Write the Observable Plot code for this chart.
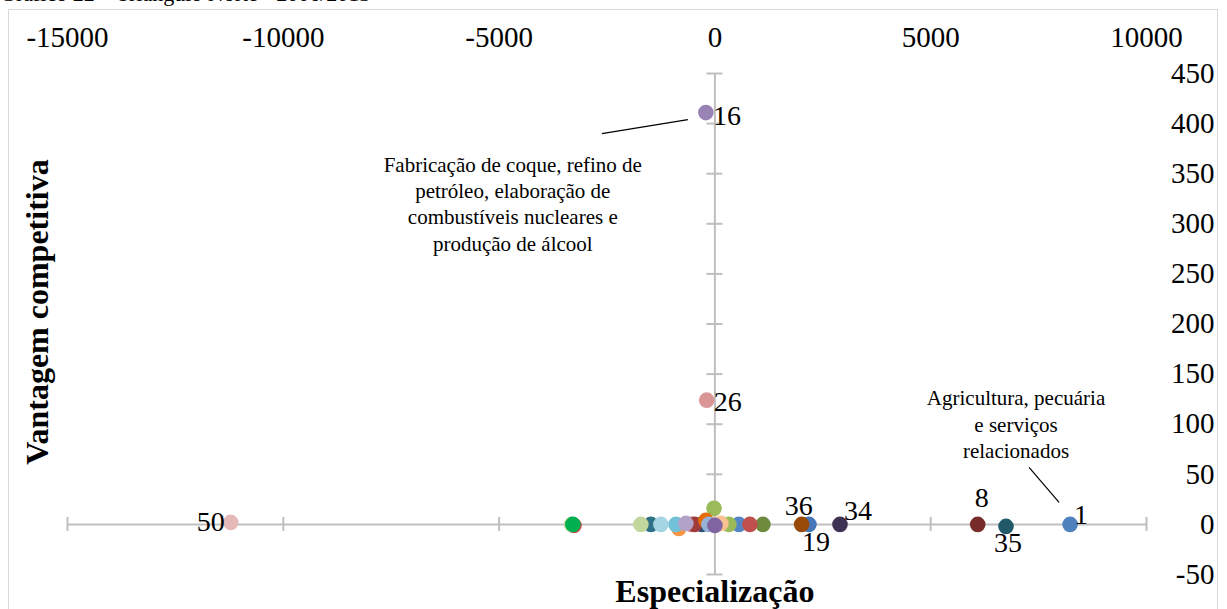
<!DOCTYPE html>
<html>
<head>
<meta charset="utf-8">
<script src="https://cdn.jsdelivr.net/npm/d3@7"></script>
<script src="https://cdn.jsdelivr.net/npm/@observablehq/plot@0.6"></script>
<style>
  html, body { margin: 0; padding: 0; width: 1227px; height: 609px; overflow: hidden; background: white; }
  #wrap { position: relative; width: 1227px; height: 609px; }
  #title { position: absolute; left: 0; top: -17px; font: 22px "Liberation Serif", serif; white-space: nowrap; line-height: 1; color: #000; }
  #frame { position: absolute; left: 8px; top: 9px; width: 1208px; height: 700px; border: 1.5px solid #d9d9d9; pointer-events: none; z-index: 2; }
  #chart { position: absolute; left: 0; top: 0; z-index: 1; }
</style>
</head>
<body>
<div id="wrap">
  <div id="title">Gráfico 22 – Triângulo Norte - 2006/2013</div>
  <div id="frame"></div>
  <div id="chart"></div>
</div>
<script>
// ---- Data ----
const setor          = [1, 2, 3, 6, 7, 8, 9, 11, 13, 14, 15, 16, 17, 19, 20, 24, 25, 26, 27, 28, 30, 34, 35, 36, 38, 40, 42, 50, 51, 53];
const especializacao = [8230, -3265, -20, -835, -300, 6089, 1113, -1484, 556, -540, 324, -209, -904, 2179, -470, -209, -139, -190, -3320, -672, 139, 2898, 6745, 2010, 811, 0, -3292, -11219, -1715, -1252];
const vantagem       = [0, -1, 16, -4, 0, 0, 0, 0, 0, 0, 0, 411, 0, 0, 0, 4, 0, 124, 0, 1, 1, 0, -2, 0, 0, -1, 0, 2, 0, 0];
const cores          = ["#4F81BD", "#C0504D", "#9BBB59", "#F79646", "#2C4D75", "#772C2A", "#6E8B3D", "#2E7086", "#5586C4", "#D58683", "#9BBB59", "#9983B5", "#72C1D8", "#4577B8", "#9F3B38", "#E46C0A", "#95B3D7", "#D99694", "#C3D69B", "#B3A2C7", "#FAC090", "#3F3151", "#215968", "#984807", "#C0504D", "#8064A2", "#00B050", "#E6B9B8", "#C3D69B", "#A5D5E3"];
const setoresRotulados = [16, 26, 50, 36, 19, 34, 8, 35, 1];

const xTicks = [-15000, -10000, -5000, 0, 5000, 10000];
const yTicks = [-50, 0, 50, 100, 150, 200, 250, 300, 350, 400, 450];

const anotTexto = [
  "Fabricação de coque, refino de\npetróleo, elaboração de\ncombustíveis nucleares e\nprodução de álcool",
  "Agricultura, pecuária\ne serviços\nrelacionados"
];
const anotX = [-4683, 6977];
const anotY = [321, 101];
const linhaX1 = [-2619, 7279];
const linhaY1 = [390, 57];
const linhaX2 = [-626, 7974];
const linhaY2 = [404, 22];

const tituloX = "Especialização";
const tituloY = "Vantagem competitiva";

// ---- Build tables ----
const pontos = setor.map((s, i) => ({setor: s, x: especializacao[i], y: vantagem[i]}));
const anot = anotTexto.map((t, i) => ({t, x: anotX[i], y: anotY[i]}));
const linhas = linhaX1.map((d, i) => ({x1: d, y1: linhaY1[i], x2: linhaX2[i], y2: linhaY2[i]}));

// label placement (style)
const place = {
  16: {dx: 7, dy: 3, textAnchor: "start"},
  26: {dx: 7, dy: 2, textAnchor: "start"},
  50: {dx: -6, dy: 0, textAnchor: "end"},
  36: {dx: -3, dy: -18, textAnchor: "middle"},
  19: {dx: 7, dy: 18, textAnchor: "middle"},
  34: {dx: 4, dy: -13, textAnchor: "start"},
  8:  {dx: 4, dy: -26, textAnchor: "middle"},
  35: {dx: 2, dy: 17, textAnchor: "middle"},
  1:  {dx: 4, dy: -9, textAnchor: "start"}
};

const FONT = "Liberation Serif, Times New Roman, serif";
const GRAY = "#bfbfbf";

const labelMarks = setoresRotulados.map(s => {
  const p = place[s];
  return Plot.text(pontos.filter(d => d.setor === s), {
    x: "x", y: "y", text: d => String(d.setor),
    dx: p.dx, dy: p.dy, textAnchor: p.textAnchor,
    fontSize: 28, fontFamily: FONT, fill: "black"
  });
});

const chart = Plot.plot({
  width: 1227,
  height: 640,
  marginLeft: 67,
  marginRight: 81,
  marginTop: 73,
  marginBottom: 66,
  style: {background: "transparent", fontFamily: FONT, overflow: "visible"},
  x: {domain: [-15000, 10000]},
  y: {domain: [-50, 450]},
  color: {type: "ordinal", domain: setor, range: cores},
  marks: [
    // axis lines
    Plot.ruleY([0], {x1: -15000, x2: 10000, stroke: GRAY, strokeWidth: 2}),
    Plot.ruleX([0], {y1: -50, y2: 450, stroke: GRAY, strokeWidth: 2}),
    // cross tick marks
    Plot.ruleX(xTicks, {x: d => d, y1: 0, y2: 0, insetTop: -7, insetBottom: -7, stroke: GRAY, strokeWidth: 2}),
    Plot.ruleY(yTicks, {y: d => d, x1: 0, x2: 0, insetLeft: -8, insetRight: -8, stroke: GRAY, strokeWidth: 2}),
    // tick labels
    Plot.axisX({anchor: "top", ticks: xTicks, tickSize: 0, tickPadding: 27, tickFormat: d => String(d), fontSize: 29, fontFamily: FONT, fill: "black", label: null}),
    Plot.axisY({anchor: "right", ticks: yTicks, tickSize: 0, tickPadding: 68, textAnchor: "end", tickFormat: d => String(d), fontSize: 29, fontFamily: FONT, fill: "black", label: null}),
    // annotation lines
    Plot.link(linhas, {x1: "x1", y1: "y1", x2: "x2", y2: "y2", stroke: "black", strokeWidth: 1.2}),
    // annotation texts
    Plot.text(anot, {x: "x", y: "y", text: "t", fontSize: 21, lineHeight: 1.25, fontFamily: FONT, fill: "black", textAnchor: "middle", lineAnchor: "middle"}),
    // points
    Plot.dot(pontos, {x: "x", y: "y", fill: "setor", r: 7.8, stroke: null}),
    ...labelMarks,
    // axis titles
    Plot.text([0], {x: d => d, frameAnchor: "bottom", text: () => tituloX, dy: 27, textAnchor: "middle", lineAnchor: "bottom", fontSize: 32, fontWeight: "bold", fontFamily: FONT, fill: "black"}),
    Plot.text([tituloY], {frameAnchor: "left", text: d => d, rotate: -90, dx: -30, dy: -12, textAnchor: "middle", lineAnchor: "middle", fontSize: 32, fontWeight: "bold", fontFamily: FONT, fill: "black"})
  ]
});
document.getElementById("chart").appendChild(chart);
</script>
</body>
</html>
